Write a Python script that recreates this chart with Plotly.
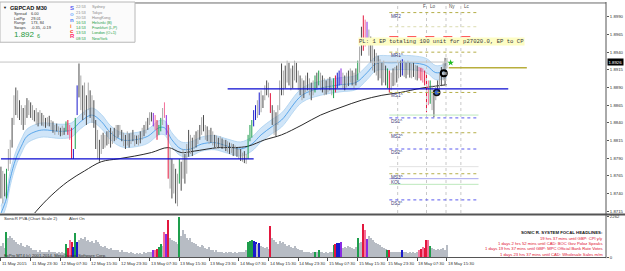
import plotly.graph_objects as go

W, H = 625, 271
FONT = "Liberation Sans, Arial, sans-serif"
MONO = "Liberation Mono, DejaVu Sans Mono, monospace"

# ---------------- data ----------------
highs = [
 1.8778,1.8772,1.8768,1.8775,1.8803,1.8816,1.8847,1.8879,1.8890,1.8886,
 1.8872,1.8865,1.8861,1.8865,1.8875,1.8872,1.8869,1.8865,1.8858,1.8861,
 1.8855,1.8858,1.8854,1.8851,1.8847,1.8848,1.8850,1.8844,1.8842,1.8837,
 1.8839,1.8835,1.8833,1.8836,1.8833,1.8842,1.8844,1.8837,1.8833,1.8803,
 1.8847,1.8893,1.8924,1.8907,1.8893,1.8897,1.8879,1.8897,1.8886,1.8879,
 1.8872,1.8844,1.8830,1.8816,1.8823,1.8826,1.8823,1.8828,1.8830,1.8833,
 1.8828,1.8833,1.8837,1.8837,1.8837,1.8830,1.8826,1.8823,1.8828,1.8825,
 1.8826,1.8830,1.8823,1.8822,1.8823,1.8828,1.8833,1.8837,1.8842,1.8847,
 1.8855,1.8855,1.8854,1.8851,1.8844,1.8837,1.8847,1.8861,1.8869,1.8851,
 1.8837,1.8803,1.8789,1.8782,1.8775,1.8768,1.8789,1.8785,1.8803,1.8796,
 1.8810,1.8830,1.8823,1.8819,1.8823,1.8828,1.8830,1.8837,1.8848,1.8851,
 1.8837,1.8835,1.8830,1.8833,1.8828,1.8823,1.8822,1.8819,1.8821,1.8818,
 1.8816,1.8816,1.8814,1.8812,1.8811,1.8810,1.8808,1.8805,1.8803,1.8803,
 1.8798,1.8800,1.8796,1.8823,1.8837,1.8844,1.8858,1.8865,1.8872,1.8883,
 1.8886,1.8879,1.8893,1.8900,1.8897,1.8882,1.8865,1.8858,1.8855,1.8865,
 1.8900,1.8924,1.8914,1.8921,1.8928,1.8925,1.8917,1.8921,1.8928,1.8925,
 1.8914,1.8907,1.8903,1.8900,1.8907,1.8911,1.8903,1.8897,1.8900,1.8907,
 1.8911,1.8914,1.8911,1.8907,1.8903,1.8900,1.8903,1.8905,1.8900,1.8903,
 1.8907,1.8911,1.8914,1.8917,1.8911,1.8907,1.8911,1.8914,1.8917,1.8914,
 1.8911,1.8917,1.8928,1.8948,1.8976,1.8992,1.8986,1.8983,1.8972,1.8962,
 1.8953,1.8944,1.8939,1.8935,1.8930,1.8925,1.8928,1.8921,1.8917,1.8914,
 1.8911,1.8917,1.8919,1.8921,1.8925,1.8928,1.8930,1.8928,1.8925,1.8928,
 1.8925,1.8924,1.8925,1.8922,1.8921,1.8919,1.8918,1.8917,1.8914,1.8911,
 1.8900,1.8900,1.8893,1.8886,1.8892,1.8900,1.8911,1.8919,1.8925,1.8932,
 1.8932]
lows = [
 1.8733,1.8726,1.8736,1.8733,1.8772,1.8782,1.8805,1.8837,1.8851,1.8847,
 1.8844,1.8837,1.8830,1.8837,1.8847,1.8851,1.8847,1.8844,1.8842,1.8837,
 1.8835,1.8839,1.8836,1.8835,1.8833,1.8836,1.8835,1.8830,1.8826,1.8823,
 1.8828,1.8823,1.8821,1.8822,1.8823,1.8828,1.8823,1.8816,1.8789,1.8789,
 1.8803,1.8851,1.8876,1.8858,1.8844,1.8851,1.8837,1.8858,1.8847,1.8840,
 1.8833,1.8803,1.8789,1.8785,1.8796,1.8803,1.8805,1.8808,1.8810,1.8805,
 1.8810,1.8814,1.8816,1.8819,1.8823,1.8814,1.8807,1.8803,1.8808,1.8805,
 1.8810,1.8814,1.8807,1.8810,1.8808,1.8811,1.8816,1.8821,1.8825,1.8830,
 1.8837,1.8842,1.8835,1.8830,1.8816,1.8823,1.8828,1.8837,1.8847,1.8823,
 1.8761,1.8747,1.8733,1.8740,1.8726,1.8722,1.8754,1.8744,1.8761,1.8754,
 1.8768,1.8792,1.8796,1.8793,1.8803,1.8805,1.8810,1.8816,1.8823,1.8828,
 1.8816,1.8814,1.8810,1.8812,1.8808,1.8805,1.8803,1.8804,1.8805,1.8803,
 1.8803,1.8800,1.8798,1.8796,1.8797,1.8793,1.8794,1.8792,1.8789,1.8786,
 1.8785,1.8783,1.8782,1.8789,1.8814,1.8819,1.8835,1.8844,1.8847,1.8851,
 1.8855,1.8861,1.8872,1.8879,1.8876,1.8854,1.8837,1.8823,1.8821,1.8837,
 1.8858,1.8879,1.8879,1.8889,1.8897,1.8893,1.8886,1.8889,1.8900,1.8897,
 1.8886,1.8879,1.8872,1.8875,1.8883,1.8886,1.8879,1.8872,1.8879,1.8883,
 1.8889,1.8893,1.8886,1.8883,1.8879,1.8880,1.8883,1.8886,1.8879,1.8875,
 1.8883,1.8889,1.8893,1.8894,1.8889,1.8886,1.8890,1.8892,1.8897,1.8893,
 1.8889,1.8893,1.8900,1.8911,1.8935,1.8942,1.8948,1.8958,1.8935,1.8925,
 1.8914,1.8911,1.8907,1.8900,1.8903,1.8893,1.8897,1.8893,1.8889,1.8883,
 1.8886,1.8892,1.8893,1.8897,1.8903,1.8905,1.8907,1.8905,1.8903,1.8908,
 1.8904,1.8903,1.8905,1.8901,1.8900,1.8903,1.8900,1.8897,1.8893,1.8855,
 1.8865,1.8867,1.8858,1.8848,1.8872,1.8878,1.8886,1.8892,1.8900,1.8893,
 1.8917]
# d/l = bear/bull grey, G green, R red, K pink, B blue, P purple (PVA colours)
bar_type = ("dldGlldldl" "dldldldldl" "dldldldldl" "dldldGRKRB" "GBdldldldl"
            "ddldldldld" "ldldldldld" "ldldldldld" "ldPKRGGlKP" "RldldlGdld"
            "ldldldldld" "ldldldldld" "ldldldldld" "ldlGGGBBlB" "ldldlRdldl"
            "ldldldldld" "ldldldldlG" "dGldldldlG" "RBBPldldld" "ldGldRKPld"
            "ldldldldGR" "ldldldBldl" "dldldKRKRR" "KGldldldld" "l")
volumes = [
 650,810,540,1400,1080,1190,1080,970,860,760,
 700,810,650,590,700,650,540,430,380,430,
 320,380,320,270,320,270,380,320,270,320,
 220,270,220,270,220,760,540,970,860,590,
 1350,860,970,1080,1030,1130,920,970,860,920,
 810,970,860,760,650,590,650,540,490,540,
 430,380,430,380,320,380,270,320,270,220,
 270,220,160,220,160,220,160,270,220,270,
 320,320,430,430,490,590,760,650,1400,1300,
 2100,1080,970,920,860,760,2262,1190,1510,1300,
 1080,970,1080,860,810,760,650,590,700,650,
 540,490,590,430,380,320,380,270,320,270,
 220,270,220,270,320,220,270,220,270,320,
 270,320,430,860,920,970,920,860,760,810,
 650,590,540,590,490,1730,1080,970,860,760,
 920,810,860,760,650,700,590,540,650,540,
 490,430,380,320,270,320,270,220,270,320,
 270,380,320,270,220,270,220,270,320,700,
 760,810,810,860,540,590,540,650,590,540,
 490,590,1080,810,860,1890,1510,1030,1190,1080,
 970,860,810,760,700,590,540,490,430,380,
 320,270,320,270,320,270,430,270,320,220,
 270,220,270,220,270,430,490,590,540,970,
 970,650,540,490,430,490,430,490,540,430,
 700]

band_bars = [0,3,5,8,11,14,19,23,32,38,43,49,54,59,65,72,79,85,88,92,97,102,108,115,122,
             129,135,140,146,151,162,172,183,191,197,202,210,221,229,234,240]
band_mid = [1.8712,1.8733,1.8761,1.8789,1.8807,1.8821,1.8828,1.8830,1.8828,1.8830,
            1.8842,1.8851,1.8842,1.8826,1.8816,1.8816,1.8821,1.8833,1.8833,1.8816,
            1.8803,1.8803,1.8810,1.8812,1.8807,1.8803,1.8810,1.8823,1.8835,1.8844,
            1.8879,1.8889,1.8894,1.8897,1.8911,1.8924,1.8925,1.8925,1.8921,1.8911,1.8914]
band_up = [1.8722,1.8743,1.8771,1.8799,1.8817,1.8831,1.8838,1.8840,1.8838,1.8840,
           1.8852,1.8861,1.8852,1.8836,1.8826,1.8826,1.8831,1.8843,1.8843,1.8826,
           1.8813,1.8813,1.8820,1.8822,1.8817,1.8813,1.8820,1.8833,1.8845,1.8854,
           1.8889,1.8899,1.8904,1.8907,1.8921,1.8934,1.8935,1.8935,1.8931,1.8921,1.8924]
band_lo = [1.8702,1.8723,1.8751,1.8779,1.8797,1.8811,1.8818,1.8820,1.8818,1.8820,
           1.8832,1.8841,1.8832,1.8816,1.8806,1.8806,1.8811,1.8823,1.8823,1.8806,
           1.8793,1.8793,1.8800,1.8802,1.8797,1.8793,1.8800,1.8813,1.8825,1.8834,
           1.8869,1.8879,1.8884,1.8887,1.8901,1.8914,1.8915,1.8915,1.8911,1.8901,1.8904]
ma_bars = [10,19,27,36,45,54,63,72,81,90,97,104,117,126,133,142,151,162,172,183,194,205,215,226,234,240]
ma_vals = [1.8685,1.8715,1.8737,1.8757,1.8772,1.8785,1.8789,1.8793,1.8798,1.8805,1.8798,1.8800,
           1.8805,1.8805,1.8807,1.8816,1.8823,1.8837,1.8851,1.8862,1.8872,1.8879,1.8883,1.8889,
           1.8892,1.8894]

time_ticks = list(range(0, 241, 16))
time_labels = ["11 May 2015", "11 May 23:30", "12 May 07:30", "12 May 15:30", "12 May 23:30",
               "13 May 07:30", "13 May 15:30", "13 May 23:30", "14 May 07:30", "14 May 15:30",
               "14 May 23:30", "15 May 07:30", "15 May 15:30", "15 May 23:30", "18 May 07:30",
               "18 May 15:30"]
price_ticks = [1.8715, 1.8740, 1.8765, 1.8790, 1.8815, 1.8840, 1.8865, 1.8890, 1.8915, 1.8940, 1.8965, 1.8990]
last_price = 1.8926
vol_max = 2262

support_level, support_start, support_end = 1.8789, 0, 136
resist_level, resist_start, resist_end = 1.8888, 122, 273
target_level, target_start, target_end = 1.8918, 241, 283

pivot_levels = [1.8996, 1.8976, 1.8962, 1.8940, 1.8883, 1.8851, 1.8847, 1.8826, 1.8803,
                1.8778, 1.8768, 1.8761, 1.8753, 1.8731]
pivot_labels = ["MR2", "", "", "MR1^", "MS1^", "", "DS1^", "MS2^", "DS2^", "", "MS3^", "KOL", "", "DS3^"]
pivot_kind = ["o", "lo", "r", "o", "o", "g", "b", "o", "b", "gr", "o", "lb", "g", "b"]
pivot_start, pivot_end = 209, 257

session_bars = [213.5, 229, 239.5, 247.5]
session_names = ["F", "Lo", "Ny", "Lc"]
session_label_bars = [226.5, 230.5, 240.5, 248.5]

trade_exit = (238.3, 1.8910)
trade_entry = (234.5, 1.8883)
trade_star = (242, 1.8925)

headlines = ["19 hrs 37 mins until GBP: CPI y/y",
             "1 days 2 hrs 52 mins until CAD: BOC Gov Poloz Speaks",
             "1 days 19 hrs 37 mins until GBP: MPC Official Bank Rate Votes",
             "1 days 23 hrs 37 mins until CAD: Wholesale Sales m/m"]
sessions_time = ["22:53", "21:53", "20:53", "16:53", "14:53", "13:53", "08:53"]
sessions_city = ["Sydney", "Tokyo", "HongKong", "Helsinki (B)", "Frankfurt (L,P)", "London (O+1)", "NewYork"]
sessions_open = [False, False, False, True, True, True, True]
info_keys = ["Spread", "LotPip", "Range", "Swaps"]
info_vals = ["6.00", "29.01", "173, 84", "-0.35, -0.19"]

# ---------------- style ----------------
COL = {"d": "#4d4d4d", "l": "#a9a9a9", "G": "#1e9e4c", "R": "#e3173e", "K": "#f4709a",
       "B": "#1a1acc", "P": "#8a2be2"}
VCOL = {"d": "#b7bcc4", "l": "#b7bcc4"}
PIV = {"o": ("#b5ae48", "dot", 1), "lo": ("#dcdcb0", "dot", 1), "r": ("#ff4a4a", "dash", 1),
       "g": ("#bde8bd", "solid", 1), "b": ("#5a5aee", "dot", 1), "gr": ("#e2e2e2", "solid", 1),
       "lb": ("#a8a8f0", "solid", 1)}

X_RIGHT = 606
BARS_VISIBLE = 326.1
Y_MAIN_TOP, Y_MAIN_BOT = 1, 215
Y_VOL_TOP, Y_VOL_BOT = 219, 260
P_TOP, P_BOT = 1.90096, 1.87124


def px(x):
    return x / W


def py(y):
    return 1 - y / H


fig = go.Figure()

# EMA band
fig.add_trace(go.Scatter(x=band_bars, y=band_up, mode="lines", line=dict(color="#a9d0f0", width=0.8, shape="spline"),
                         hoverinfo="skip", showlegend=False))
fig.add_trace(go.Scatter(x=band_bars, y=band_lo, mode="lines", line=dict(color="#a9d0f0", width=0.8, shape="spline"),
                         fill="tonexty", fillcolor="rgba(200,225,247,0.85)", hoverinfo="skip", showlegend=False))
fig.add_trace(go.Scatter(x=band_bars, y=band_mid, mode="lines", line=dict(color="#3b95e6", width=0.8, shape="spline"),
                         hoverinfo="skip", showlegend=False))
fig.add_trace(go.Scatter(x=ma_bars, y=ma_vals, mode="lines", line=dict(color="#2a2a2a", width=1, shape="spline"),
                         hoverinfo="skip", showlegend=False))

# price bars
for t in ["l", "d", "G", "R", "K", "B", "P"]:
    xs, ys = [], []
    for i, c in enumerate(bar_type):
        if c == t:
            xs += [i, i, None]
            ys += [lows[i], highs[i], None]
    fig.add_trace(go.Scatter(x=xs, y=ys, mode="lines", line=dict(color=COL[t], width=1),
                             hoverinfo="skip", showlegend=False))

# trade markers
fig.add_trace(go.Scatter(x=[trade_entry[0]], y=[trade_entry[1]], mode="markers",
                         marker=dict(symbol="circle", size=6, color="#3a6ad0", line=dict(color="#111", width=1.5)),
                         hoverinfo="skip", showlegend=False))
fig.add_trace(go.Scatter(x=[trade_exit[0]], y=[trade_exit[1]], mode="markers",
                         marker=dict(symbol="circle-open", size=6, color="#000", line=dict(color="#000", width=2)),
                         hoverinfo="skip", showlegend=False))
fig.add_trace(go.Scatter(x=[trade_star[0]], y=[trade_star[1]], mode="markers",
                         marker=dict(symbol="star", size=5, color="#22bb22"), hoverinfo="skip", showlegend=False))

# volume
fig.add_trace(go.Bar(x=list(range(len(volumes))), y=volumes, width=0.55,
                     marker=dict(color=[VCOL.get(c, COL.get(c)) for c in bar_type], line=dict(width=0)),
                     xaxis="x2", yaxis="y2", hoverinfo="skip", showlegend=False))

assert len(highs) == len(lows) == len(volumes) == len(bar_type) == 241

# ---------------- shapes ----------------
shapes = []
# bid line
shapes.append(dict(type="line", xref="x", yref="y", x0=-0.5, x1=239.5, y0=last_price, y1=last_price,
                   line=dict(color="#c4c4c4", width=1)))
# session lines
for b in session_bars:
    shapes.append(dict(type="line", xref="x", yref="y", x0=b, x1=b, y0=P_BOT, y1=P_TOP - 0.0001,
                       line=dict(color="#c8c8c8", width=1, dash="dot")))
# pivot lines
for lv, k in zip(pivot_levels, pivot_kind):
    c, d, w = PIV[k]
    shapes.append(dict(type="line", xref="x", yref="y", x0=pivot_start, x1=pivot_end, y0=lv, y1=lv,
                       line=dict(color=c, width=w, dash=d)))
# drawn horizontal lines
shapes.append(dict(type="line", xref="x", yref="y", x0=support_start, x1=support_end, y0=support_level,
                   y1=support_level, line=dict(color="#0a0ad0", width=1.4)))
shapes.append(dict(type="line", xref="x", yref="y", x0=resist_start, x1=resist_end, y0=resist_level,
                   y1=resist_level, line=dict(color="#0a0ad0", width=1.4)))
shapes.append(dict(type="line", xref="x", yref="y", x0=target_start, x1=target_end, y0=target_level,
                   y1=target_level, line=dict(color="#b8ae3c", width=1.4)))
# frame lines
shapes.append(dict(type="line", xref="paper", yref="paper", x0=0, x1=px(X_RIGHT), y0=py(1), y1=py(1),
                   line=dict(color="#6a6a6a", width=1)))
shapes.append(dict(type="line", xref="paper", yref="paper", x0=0, x1=1, y0=py(216.5), y1=py(216.5),
                   line=dict(color="#555", width=2)))
shapes.append(dict(type="line", xref="paper", yref="paper", x0=px(X_RIGHT), x1=px(X_RIGHT), y0=py(0), y1=py(261),
                   line=dict(color="#555", width=1)))
# info panel
shapes.append(dict(type="rect", xref="paper", yref="paper", x0=px(0), x1=px(135), y0=py(41), y1=py(0),
                   fillcolor="#fbfbfb", line=dict(color="#b8b8b8", width=1), layer="above"))
fig.update_layout(shapes=shapes)


def txt(x, y, s, size=4.3, color="#303030", xanchor="left", family=FONT, **kw):
    fig.add_annotation(x=px(x), y=py(y), xref="paper", yref="paper", text=s, showarrow=False,
                       xanchor=xanchor, yanchor="middle", font=dict(size=size, color=color, family=family),
                       borderpad=0, **kw)


# pivot labels
for lv, lab in zip(pivot_levels, pivot_labels):
    if lab:
        fig.add_annotation(x=pivot_start + 0.5, y=lv, xref="x", yref="y", text=lab, showarrow=False,
                           xanchor="left", yanchor="top", borderpad=0,
                           font=dict(size=4.6, color="#3c3c78", family=FONT))
# session labels
for b, n in zip(session_label_bars, session_names):
    fig.add_annotation(x=b, y=py(5), xref="x", yref="paper", text=n, showarrow=False, xanchor="left",
                       yanchor="middle", borderpad=0, font=dict(size=4.6, color="#505050", family=FONT))

# trade text box
txt(358, 40.5, "PL: 1 EP totaling 100 unit for p27020.0, EP to CP", size=5.6, color="#3a3a3a",
    family=MONO, bgcolor="#fdfdc4")

# current price label
fig.add_annotation(x=px(X_RIGHT + 1), y=last_price, xref="paper", yref="y", text="1.8926", showarrow=False,
                   xanchor="left", yanchor="middle", bgcolor="#000", borderpad=0.5,
                   font=dict(size=4.3, color="#fff", family=FONT))

# time labels
for b, lab in zip(time_ticks, time_labels):
    fig.add_annotation(x=b, y=py(266.5), xref="x2", yref="paper", text=lab, showarrow=False, xanchor="left",
                       yanchor="middle", borderpad=0, font=dict(size=4.3, color="#303030", family=FONT))

# indicator pane texts
txt(3, 221, "SonicR PVA (Chart Scale 2)", size=4.3)
txt(68, 221, "Alert On", size=4.3)
txt(3, 258.5, "FxPro MT4 (c) 2001-2014, MetaQuotes Software Corp.", size=4.2)
txt(604, 235, "<b>SONIC R. SYSTEM FOCAL HEADLINES:</b>", size=4.3, color="#111", xanchor="right")
for k, h in enumerate(headlines):
    txt(604, 240.7 + 5.4 * k, h, size=4.2, color="#e01030", xanchor="right")

# info panel texts
txt(2, 6, "▼", size=4, color="#111")
txt(9, 6, "<b>GBPCAD</b>", size=5.6, color="#111")
txt(35, 6, "<b>M30</b>", size=5.6, color="#111")
for k, (a, v) in enumerate(zip(info_keys, info_vals)):
    txt(13, 12 + 4.6 * k, a, size=3.9, color="#333")
    txt(30, 12 + 4.6 * k, v, size=3.9, color="#333")
txt(13, 33.5, "1.892", size=8, color="#1f9a3c")
txt(36, 34.5, "6", size=5.5, color="#1f9a3c")
for ch, yy, cc in zip("SonicR", [6, 12.5, 18.5, 24, 29.5, 35],
                      ["#5a5af0", "#7fb2ff", "#4a7cf0", "#ff7a30", "#ff3a2a", "#ff2a6a"]):
    txt(69, yy, "<b>%s</b>" % ch, size=6, color=cc)
for k, (t, c, o) in enumerate(zip(sessions_time, sessions_city, sessions_open)):
    col = "#22a045" if o else "#8a8a8a"
    txt(75, 5 + 5.3 * k, t, size=3.9, color=col)
    txt(91, 5 + 5.3 * k, c, size=3.9, color=col)

# ---------------- axes ----------------
xr = [-0.5, BARS_VISIBLE - 0.5]
fig.update_layout(
    width=W, height=H, margin=dict(l=0, r=0, t=0, b=0), autosize=False,
    paper_bgcolor="#fff", plot_bgcolor="#fff", showlegend=False, bargap=0,
    font=dict(family=FONT, size=4.3, color="#303030"),
    xaxis=dict(domain=[0, px(X_RIGHT)], range=xr, anchor="y", showticklabels=False, showgrid=False,
               zeroline=False, ticks=""),
    yaxis=dict(domain=[py(Y_MAIN_BOT), py(Y_MAIN_TOP)], range=[P_BOT, P_TOP], side="right", anchor="x",
               tickvals=price_ticks, ticktext=["%.4f" % v for v in price_ticks], ticks="outside", ticklen=2,
               tickcolor="#555", showgrid=False, zeroline=False, tickfont=dict(size=4.3, color="#303030")),
    xaxis2=dict(domain=[0, px(X_RIGHT)], range=xr, anchor="y2", tickvals=time_ticks, showticklabels=False,
                ticks="outside", ticklen=3, tickcolor="#555", showline=True, linecolor="#555", linewidth=1,
                showgrid=False, zeroline=False),
    yaxis2=dict(domain=[py(Y_VOL_BOT), py(Y_VOL_TOP)], range=[0, vol_max], side="right", anchor="x2",
                tickvals=[0, vol_max], ticktext=["0", str(vol_max)], ticks="outside", ticklen=2,
                tickcolor="#555", showgrid=False, zeroline=False, tickfont=dict(size=4.3, color="#303030")),
)

fig.write_html("out.html")
